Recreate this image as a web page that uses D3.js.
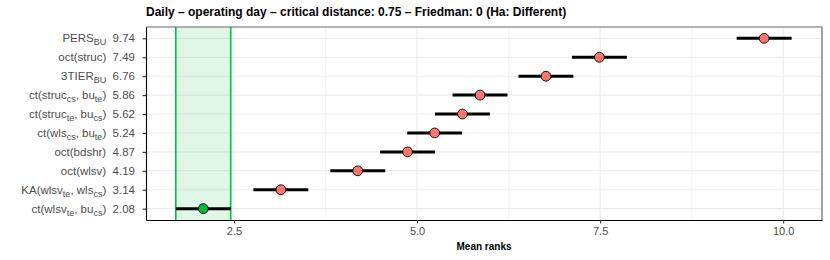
<!DOCTYPE html>
<html>
<head>
<meta charset="utf-8">
<script src="https://cdn.jsdelivr.net/npm/d3@7"></script>
<style>
  body { margin: 0; background: #fff; }
  text { font-family: "Liberation Sans", Arial, sans-serif; }
</style>
</head>
<body>
<div id="chart"></div>
<script>
// chart data, top row first
var methods = ["PERS_{BU}", "oct(struc)", "3TIER_{BU}", "ct(struc_{cs}, bu_{te})", "ct(struc_{te}, bu_{cs})",
  "ct(wls_{cs}, bu_{te})", "oct(bdshr)", "oct(wlsv)", "KA(wlsv_{te}, wls_{cs})", "ct(wlsv_{te}, bu_{cs})"];
var meanRanks = [9.74, 7.49, 6.76, 5.86, 5.62, 5.24, 4.87, 4.19, 3.14, 2.08];
var criticalDistance = 0.75;
var xTicks = [2.5, 5.0, 7.5, 10.0];
var xMinorTicks = [3.75, 6.25, 8.75];
var title = "Daily \u2013 operating day \u2013 critical distance: 0.75 \u2013 Friedman: 0 (Ha: Different)";

var svgWidth = 830, svgHeight = 260;
var margin = {top: 27, right: 8, bottom: 40, left: 146};
var width = svgWidth - margin.left - margin.right;
var height = svgHeight - margin.top - margin.bottom;

var svg = d3.select("#chart").append("svg")
  .attr("width", svgWidth)
  .attr("height", svgHeight);

var chartGroup = svg.append("g")
  .attr("transform", `translate(${margin.left}, ${margin.top})`);

var x = d3.scaleLinear().domain([1.298, 10.53]).range([0, width]);
var y = d3.scalePoint().domain(methods).range([0, height]).padding(0.6);

// best method = lowest rank, its interval is the shaded band
var best = d3.min(meanRanks);
var bestLo = best - criticalDistance / 2, bestHi = best + criticalDistance / 2;

// grid
chartGroup.selectAll(".minor").data(xMinorTicks).enter().append("line")
  .attr("x1", d => x(d)).attr("x2", d => x(d))
  .attr("y1", 0).attr("y2", height)
  .attr("stroke", "#ebebeb").attr("stroke-width", 0.6);
chartGroup.selectAll(".major").data(xTicks).enter().append("line")
  .attr("x1", d => x(d)).attr("x2", d => x(d))
  .attr("y1", 0).attr("y2", height)
  .attr("stroke", "#ebebeb").attr("stroke-width", 1.1);
chartGroup.selectAll(".hgrid").data(methods).enter().append("line")
  .attr("x1", 0).attr("x2", width)
  .attr("y1", d => y(d)).attr("y2", d => y(d))
  .attr("stroke", "#ebebeb").attr("stroke-width", 1.1);

// critical distance band
chartGroup.append("rect")
  .attr("x", x(bestLo)).attr("y", 0)
  .attr("width", x(bestHi) - x(bestLo)).attr("height", height)
  .attr("fill", "#00ba38").attr("fill-opacity", 0.12);
chartGroup.selectAll(".cdline").data([bestLo, bestHi]).enter().append("line")
  .attr("x1", d => x(d)).attr("x2", d => x(d))
  .attr("y1", 0).attr("y2", height)
  .attr("stroke", "#00c040").attr("stroke-width", 1.6);

// interval bars
chartGroup.selectAll(".bar").data(methods).enter().append("line")
  .attr("x1", (d, i) => x(meanRanks[i] - criticalDistance / 2))
  .attr("x2", (d, i) => x(meanRanks[i] + criticalDistance / 2))
  .attr("y1", d => y(d)).attr("y2", d => y(d))
  .attr("stroke", "#000").attr("stroke-width", 3);

// points
chartGroup.selectAll("circle").data(methods).enter().append("circle")
  .attr("cx", (d, i) => x(meanRanks[i]))
  .attr("cy", d => y(d))
  .attr("r", 4.9)
  .attr("fill", (d, i) => meanRanks[i] === best ? "#00ba38" : "#f8766d")
  .attr("stroke", "#000").attr("stroke-width", 0.9);

// panel border
chartGroup.append("path")
  .attr("d", `M0,0H${width}V${height}`)
  .attr("fill", "none").attr("stroke", "#666").attr("stroke-width", 1.2);

// x axis
var xAxis = chartGroup.append("g")
  .attr("transform", `translate(0, ${height})`)
  .call(d3.axisBottom(x).tickValues(xTicks).tickFormat(d3.format(".1f")).tickSize(3.5).tickSizeOuter(0));
xAxis.select(".domain").attr("stroke", "#000").attr("stroke-width", 1.1);
xAxis.selectAll(".tick line").attr("stroke", "#333").attr("stroke-width", 1.1);
xAxis.selectAll(".tick text").attr("fill", "#4d4d4d").attr("font-size", 11)
  .attr("font-family", "Liberation Sans, Arial, sans-serif").attr("dy", "0.75em");

// y axis
var yAxis = chartGroup.append("g")
  .call(d3.axisLeft(y).tickSize(3.5).tickSizeOuter(0).tickFormat(""));
yAxis.select(".domain").attr("stroke", "#000").attr("stroke-width", 1.1);
yAxis.selectAll(".tick line").attr("stroke", "#333").attr("stroke-width", 1.1);

// y labels with subscripts, then the mean rank
methods.forEach(function (m, i) {
  var t = chartGroup.append("text")
    .attr("x", -11)
    .attr("y", y(m))
    .attr("dy", "0.36em")
    .attr("text-anchor", "end")
    .attr("font-size", 11.5)
    .attr("fill", "#4d4d4d");
  var parts = m.split(/(_\{[^}]*\})/).filter(p => p.length);
  parts.forEach(function (p) {
    if (p[0] === "_") {
      t.append("tspan").attr("font-size", 9).attr("dy", "3").text(p.slice(2, -1));
      t.append("tspan").attr("dy", "-3").text("\u200b");
    } else {
      t.append("tspan").text(p);
    }
  });
  t.append("tspan").text("\u00a0\u00a0" + meanRanks[i].toFixed(2));
});

// title and axis title
svg.append("text")
  .attr("x", margin.left).attr("y", 16)
  .attr("font-size", 12).attr("font-weight", "bold")
  .text(title);

svg.append("text")
  .attr("x", margin.left + width / 2).attr("y", 250)
  .attr("text-anchor", "middle")
  .attr("font-size", 10).attr("font-weight", "bold")
  .text("Mean ranks");
</script>
</body>
</html>
